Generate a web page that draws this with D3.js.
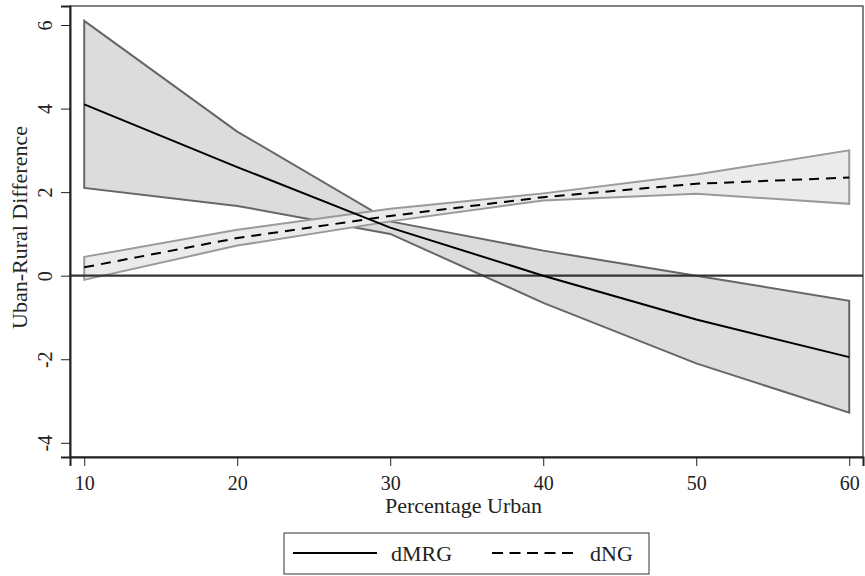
<!DOCTYPE html>
<html>
<head>
<meta charset="utf-8">
<script src="https://cdn.jsdelivr.net/npm/d3@7"></script>
<style>
  body { margin: 0; background: #fff; }
  text { font-family: "Liberation Serif", "DejaVu Serif", serif; fill: #222; }
</style>
</head>
<body>
<div id="chart"></div>
<script>
// Data
const pctUrban = [10, 20, 30, 40, 50, 60];
const mrgEst = [4.1, 2.6, 1.15, 0.0, -1.05, -1.95];
const mrgHi  = [6.1, 3.45, 1.3, 0.6, 0.0, -0.6];
const mrgLo  = [2.1, 1.67, 1.0, -0.65, -2.1, -3.28];
const ngEst  = [0.2, 0.9, 1.43, 1.88, 2.2, 2.35];
const ngHi   = [0.45, 1.1, 1.6, 1.97, 2.42, 3.0];
const ngLo   = [-0.1, 0.72, 1.3, 1.8, 1.96, 1.72];
const xTicks = [10, 20, 30, 40, 50, 60];
const yTicks = [-4, -2, 0, 2, 4, 6];
const seriesNames = ["dMRG", "dNG"];

const W = 865, H = 576;
const margin = {top: 6, right: 2, bottom: 119, left: 70};
const width = W - margin.left - margin.right;
const height = H - margin.top - margin.bottom;

const svg = d3.select("#chart").append("svg")
    .attr("width", W)
    .attr("height", H);

const g = svg.append("g")
    .attr("transform", `translate(${margin.left}, ${margin.top})`);

const x = d3.scaleLinear().domain([9.07, 60.9]).range([0, width]);
const y = d3.scaleLinear().domain([-4.34, 6.455]).range([height, 0]);

const rows = pctUrban.map((p, i) => ({
    p: p, mE: mrgEst[i], mH: mrgHi[i], mL: mrgLo[i],
    nE: ngEst[i], nH: ngHi[i], nL: ngLo[i]
}));

// Confidence bands
const mrgArea = d3.area().x(d => x(d.p)).y0(d => y(d.mL)).y1(d => y(d.mH));
const ngArea = d3.area().x(d => x(d.p)).y0(d => y(d.nL)).y1(d => y(d.nH));

g.append("path")
    .datum(rows)
    .attr("d", mrgArea)
    .attr("fill", "#dcdcdc")
    .attr("stroke", "#666")
    .attr("stroke-width", 2);

g.append("path")
    .datum(rows)
    .attr("d", ngArea)
    .attr("fill", "#ebebeb")
    .attr("stroke", "#9a9a9a")
    .attr("stroke-width", 2);

// Zero reference line
g.append("line")
    .attr("x1", 0).attr("x2", width)
    .attr("y1", y(0)).attr("y2", y(0))
    .attr("stroke", "#333")
    .attr("stroke-width", 2.2);

// Estimate lines
const mrgLine = d3.line().x(d => x(d.p)).y(d => y(d.mE));
const ngLine = d3.line().x(d => x(d.p)).y(d => y(d.nE));

g.append("path")
    .datum(rows)
    .attr("d", mrgLine)
    .attr("fill", "none")
    .attr("stroke", "#000")
    .attr("stroke-width", 2);

g.append("path")
    .datum(rows)
    .attr("d", ngLine)
    .attr("fill", "none")
    .attr("stroke", "#000")
    .attr("stroke-width", 2)
    .attr("stroke-dasharray", "10,7");

// Plot frame
g.append("rect")
    .attr("x", 0).attr("y", 0)
    .attr("width", width).attr("height", height)
    .attr("fill", "none")
    .attr("stroke", "#333")
    .attr("stroke-width", 1.2);

// Axes
const xAxis = g.append("g")
    .attr("transform", `translate(0, ${height})`)
    .call(d3.axisBottom(x).tickValues(xTicks).tickSize(9).tickPadding(10));
xAxis.select(".domain").attr("stroke", "#222").attr("stroke-width", 2);
xAxis.selectAll(".tick line").attr("stroke", "#222");
xAxis.selectAll("text")
    .style("font-size", "20px")
    .attr("fill", "#222");

const yAxis = g.append("g")
    .call(d3.axisLeft(y).tickValues(yTicks).tickSize(9).tickFormat(d => String(d)));
yAxis.select(".domain").attr("stroke", "#222").attr("stroke-width", 2);
yAxis.selectAll(".tick line").attr("stroke", "#222");
yAxis.selectAll("text")
    .attr("x", 0).attr("dy", 0)
    .attr("transform", "translate(-18, 0) rotate(-90)")
    .attr("text-anchor", "middle")
    .style("font-size", "20px")
    .attr("fill", "#222");

// Axis titles
svg.append("text")
    .attr("x", margin.left + width / 2 - 3)
    .attr("y", 513)
    .attr("text-anchor", "middle")
    .style("font-size", "22px")
    .text("Percentage Urban");

svg.append("text")
    .attr("transform", `translate(27, ${margin.top + height / 2 - 4}) rotate(-90)`)
    .attr("text-anchor", "middle")
    .style("font-size", "22px")
    .text("Uban-Rural Difference");

// Legend
const legend = svg.append("g").attr("transform", "translate(284, 533)");
legend.append("rect")
    .attr("width", 365).attr("height", 41)
    .attr("fill", "#fff")
    .attr("stroke", "#333")
    .attr("stroke-width", 1);

const legendItems = [
    {name: seriesNames[0], dash: null, x0: 9},
    {name: seriesNames[1], dash: "11,6.5", x0: 208}
];
legendItems.forEach(it => {
    legend.append("line")
        .attr("x1", it.x0).attr("x2", it.x0 + 84)
        .attr("y1", 20).attr("y2", 20)
        .attr("stroke", "#000")
        .attr("stroke-width", 2.2)
        .attr("stroke-dasharray", it.dash);
    legend.append("text")
        .attr("x", it.x0 + 98)
        .attr("y", 28)
        .style("font-size", "22px")
        .text(it.name);
});
</script>
</body>
</html>
